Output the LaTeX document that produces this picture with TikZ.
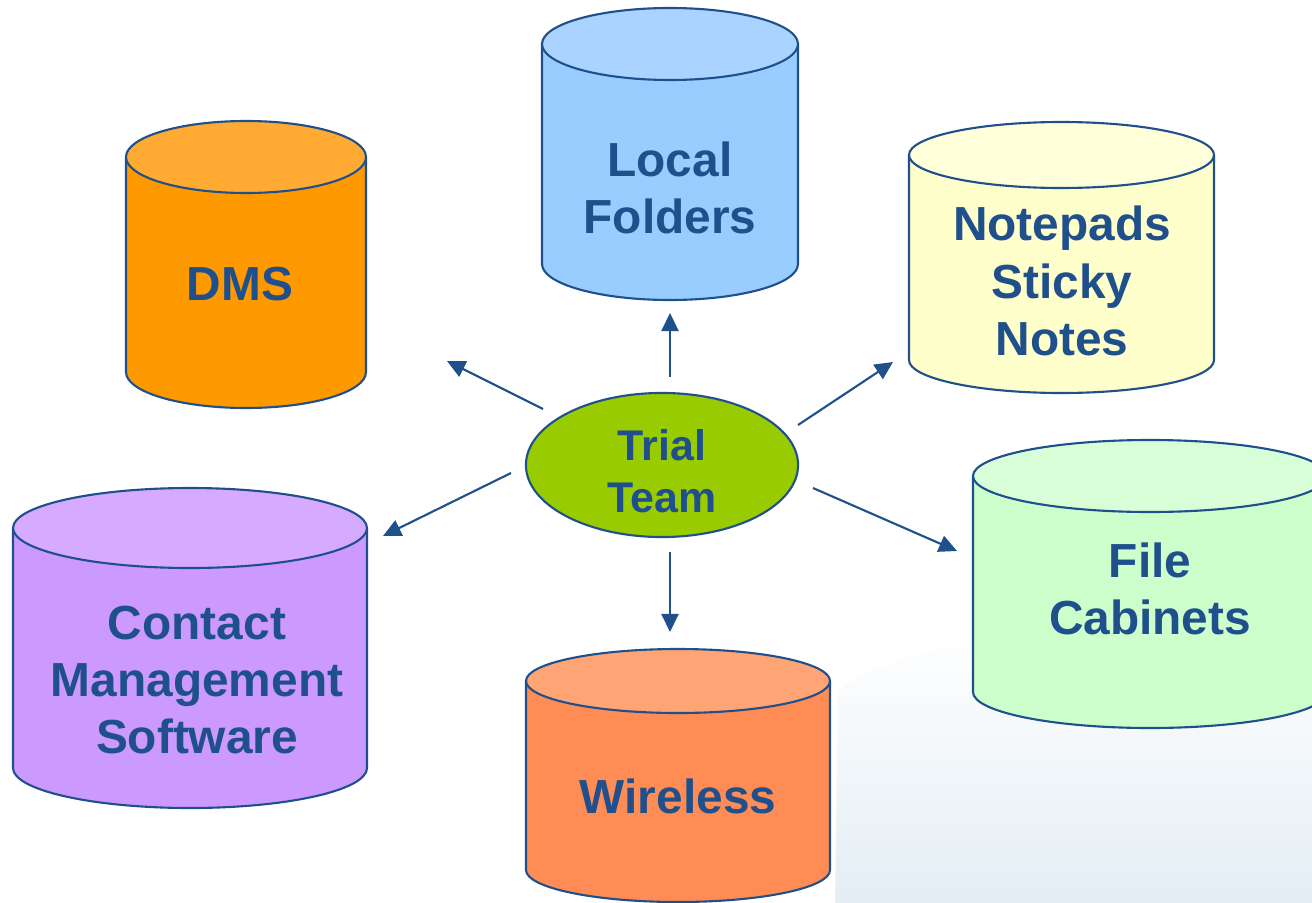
\documentclass[tikz,border=0pt]{standalone}
\usepackage{fontspec}
\setmainfont{Liberation Sans}
\usetikzlibrary{arrows.meta,shapes.geometric,fadings}
\definecolor{inkblue}{RGB}{31,80,140}
\definecolor{backdrop}{HTML}{DCE9F1}
\definecolor{teamgreen}{HTML}{99CC00}
\definecolor{dmsbody}{HTML}{FF9900}
\definecolor{dmstop}{HTML}{FFAA33}
\definecolor{locbody}{HTML}{99CCFF}
\definecolor{loctop}{HTML}{AAD4FF}
\definecolor{notbody}{HTML}{FFFFCC}
\definecolor{nottop}{HTML}{FFFFD9}
\definecolor{cmsbody}{HTML}{CC99FF}
\definecolor{cmstop}{HTML}{D6AAFF}
\definecolor{filbody}{HTML}{CCFFCC}
\definecolor{filtop}{HTML}{D9FFD9}
\definecolor{wirbody}{HTML}{FF8C55}
\definecolor{wirtop}{HTML}{FFA475}
\tikzset{
  label text/.style={font=\fontsize{13.6}{16.3}\selectfont\bfseries, text=inkblue, align=center, inner sep=0pt},
  rim/.style={draw=inkblue, line width=0.6pt},
  flow/.style={draw=inkblue, line width=0.6pt, -{Triangle[length=1.8mm,width=1.7mm]}},
}
\begin{document}
\begin{tikzpicture}[x=0.01cm,y=-0.01cm]
\useasboundingbox (0,0) rectangle (1312,903);
\clip (0,0) rectangle (1312,903);

% faint backdrop in the lower right
\fill[backdrop, path fading=north, opacity=0.8] (835,903) -- (838,690) .. controls (880,660) and (940,645) .. (1000,640) -- (1312,630) -- (1312,903) -- cycle;

% cylinders: name/left/right/top/bottom/ry/body/lid/text/text x/text y
\foreach \n/\xa/\xb/\yt/\yb/\ry/\cb/\ct/\txt/\tx/\ty in {
    dms/126/366/157/372/36/dmsbody/dmstop/DMS/240/284,
    loc/542/798/44/264/36/locbody/loctop/{Local\\Folders}/670/188,
    not/909/1214/155/360/33/notbody/nottop/{Notepads\\Sticky\\Notes}/1062/281,
    cms/13/367/528/768/40/cmsbody/cmstop/{Contact\\Management\\Software}/197/680,
    fil/973/1327/476/692/36/filbody/filtop/{File\\Cabinets}/1150/589,
    wir/526/830/681/870/32/wirbody/wirtop/Wireless/678/796} {
  \pgfmathsetmacro\xc{(\xa+\xb)/2}
  \pgfmathsetmacro\rx{(\xb-\xa)/2}
  \fill[\cb] (\xa,\yt) rectangle (\xb,\yb);
  \fill[\cb] (\xc,\yb) ellipse [x radius=\rx, y radius=\ry];
  \draw[rim] (\xa,\yt) -- (\xa,\yb) arc[start angle=180, end angle=0, x radius=\rx, y radius=\ry] -- (\xb,\yt);
  \filldraw[rim, fill=\ct] (\xc,\yt) ellipse [x radius=\rx, y radius=\ry];
  \node[label text] (\n) at (\tx,\ty) {\txt};
}

% centre
\node[ellipse, draw=inkblue, line width=0.6pt, fill=teamgreen, minimum width=2.72cm, minimum height=1.44cm] (team) at (662,465) {};
\node[label text, font=\fontsize{12.2}{14.8}\selectfont\bfseries] (team-label) at (662,471) {Trial\\Team};

% arrow ends
\coordinate (team-dms) at (543,409);
\coordinate (dms-in)   at (447,361);
\coordinate (team-loc) at (670,377);
\coordinate (loc-in)   at (670,313);
\coordinate (team-not) at (798,425);
\coordinate (not-in)   at (893,362);
\coordinate (team-cms) at (511,473);
\coordinate (cms-in)   at (383,536);
\coordinate (team-wir) at (670,552);
\coordinate (wir-in)   at (670,632);
\coordinate (team-fil) at (813,488);
\coordinate (fil-in)   at (957,551);

\foreach \t in {dms,loc,not,cms,wir,fil}
  \draw[flow] (team-\t) -- (\t-in);
\end{tikzpicture}
\end{document}
